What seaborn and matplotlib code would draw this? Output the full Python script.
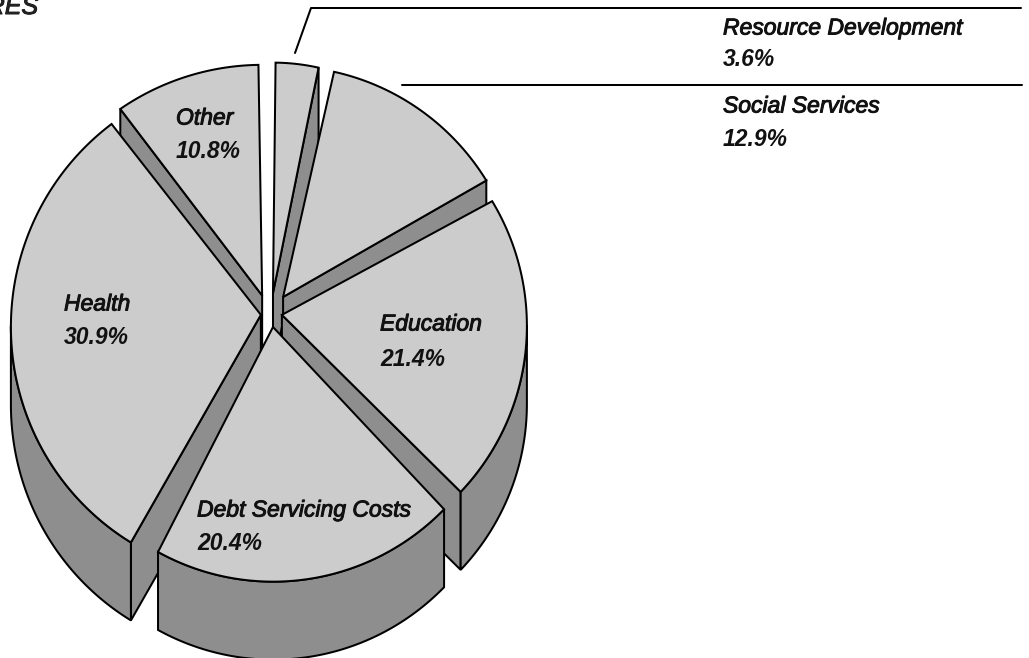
import numpy as np
import matplotlib
matplotlib.use("Agg")
import matplotlib.pyplot as plt
from matplotlib.patches import Polygon
import matplotlib.patheffects as pe
import seaborn as sns

# Budget shares, clockwise from twelve o'clock
categories = ["Resource Development", "Social Services", "Education",
              "Debt Servicing Costs", "Health", "Other"]
shares = [3.6, 12.9, 21.4, 20.4, 30.9, 10.8]

# Slice displacement on the unit disc (right, away from the viewer)
explode_u = [0.004, 0.045, 0.040, 0.004, -0.045, -0.040]
explode_v = [0.070, 0.054, -0.020, -0.070, -0.020, 0.060]

# Small per-slice corrections to the drawn wedge: angle nudges in degrees
# and arc stretch along each page axis
nudge_start = [0.7, 0.0, 2.0, 0.0, 0.0, 2.2]
nudge_end = [-0.7, 1.0, -1.4, -2.5, 0.5, -1.0]
stretch_u = [0.91, 0.97, 0.99, 0.97, 1.01, 1.0]
stretch_v = [1.0, 1.0, 1.0, 1.0, 1.04, 1.0]

# Projection of the disc onto the page
CENTER_X, CENTER_Y = 272.0, 310.0
RADIUS_X, RADIUS_Y = 247.0, 242.0
PERSPECTIVE = 0.0437
DEPTH = 78.0

TOP_COLOR = "#cccccc"
WALL_COLOR = "#8e8e8e"
LINE_WIDTH = 1.45

sns.set_theme(style="white")
plt.rcParams["font.family"] = ["Liberation Sans", "DejaVu Sans"]

fig = plt.figure(figsize=(10.29, 6.58), dpi=100)
ax = fig.add_axes([0, 0, 1, 1])
ax.set_xlim(0, 1029)
ax.set_ylim(658, 0)
ax.axis("off")


def project(u, v):
    scale = 1.0 / (1.0 + PERSPECTIVE * v)
    return np.column_stack([CENTER_X + RADIUS_X * u * scale,
                            CENTER_Y - RADIUS_Y * v * scale])


def draw_wall(points):
    """Extrude a top-edge run straight down by the pie's depth."""
    lowered = points[::-1] + np.array([0.0, DEPTH])
    ax.add_patch(Polygon(np.vstack([points, lowered]), closed=True,
                         facecolor=WALL_COLOR, edgecolor="black",
                         linewidth=LINE_WIDTH, joinstyle="miter"))


def draw_slice(start, end, off_u, off_v, su, sv):
    theta = np.radians(np.linspace(start, end, 160))
    apex = project(np.array([off_u]), np.array([off_v]))
    arc = project(off_u + su * np.sin(theta), off_v + sv * np.cos(theta))

    # A wall shows only where the clockwise outline runs leftward on the page
    if arc[0, 0] < apex[0, 0]:
        draw_wall(np.vstack([apex, arc[:1]]))
    if apex[0, 0] < arc[-1, 0]:
        draw_wall(np.vstack([arc[-1:], apex]))
    leftward = np.diff(arc[:, 0]) < 0
    if leftward.any():
        idx = np.where(leftward)[0]
        draw_wall(arc[idx[0]:idx[-1] + 2])

    ax.add_patch(Polygon(np.vstack([apex, arc]), closed=True,
                         facecolor=TOP_COLOR, edgecolor="black",
                         linewidth=LINE_WIDTH, joinstyle="miter"))


edges = np.concatenate([[0.0], np.cumsum(shares)]) * 3.6
mids = (edges[:-1] + edges[1:]) / 2
# Paint from the far side of the pie to the near side
for i in np.argsort(-np.cos(np.radians(mids))):
    draw_slice(edges[i] + nudge_start[i], edges[i + 1] + nudge_end[i],
               explode_u[i], explode_v[i], stretch_u[i], stretch_v[i])

# Leader lines for the two slices labelled outside the pie
ax.plot([295, 311, 1021], [53, 8, 8], color="black", lw=LINE_WIDTH)
ax.plot([402, 1022], [85, 85], color="black", lw=LINE_WIDTH)

label_pos = [(723, 28, 60), (723, 106, 139), (380, 324, 360),
             (197, 510, 544), (64, 304, 338), (176, 118, 151)]
thicken = [pe.withStroke(linewidth=0.7, foreground="#111111")]
for name, share, (x, y1, y2) in zip(categories, shares, label_pos):
    ax.text(x, y1, name, fontsize=16.5, fontstyle="italic", color="#111111",
            ha="left", va="center", path_effects=thicken)
    ax.text(x, y2, f"{share:.1f}%", fontsize=16.5, fontstyle="italic",
            fontweight="bold", color="#111111", ha="left", va="center")

ax.text(38, 14, "RES", fontsize=18, fontstyle="italic", color="#222222",
        ha="right", va="baseline", path_effects=thicken)

fig.savefig("out.png", dpi=100)
